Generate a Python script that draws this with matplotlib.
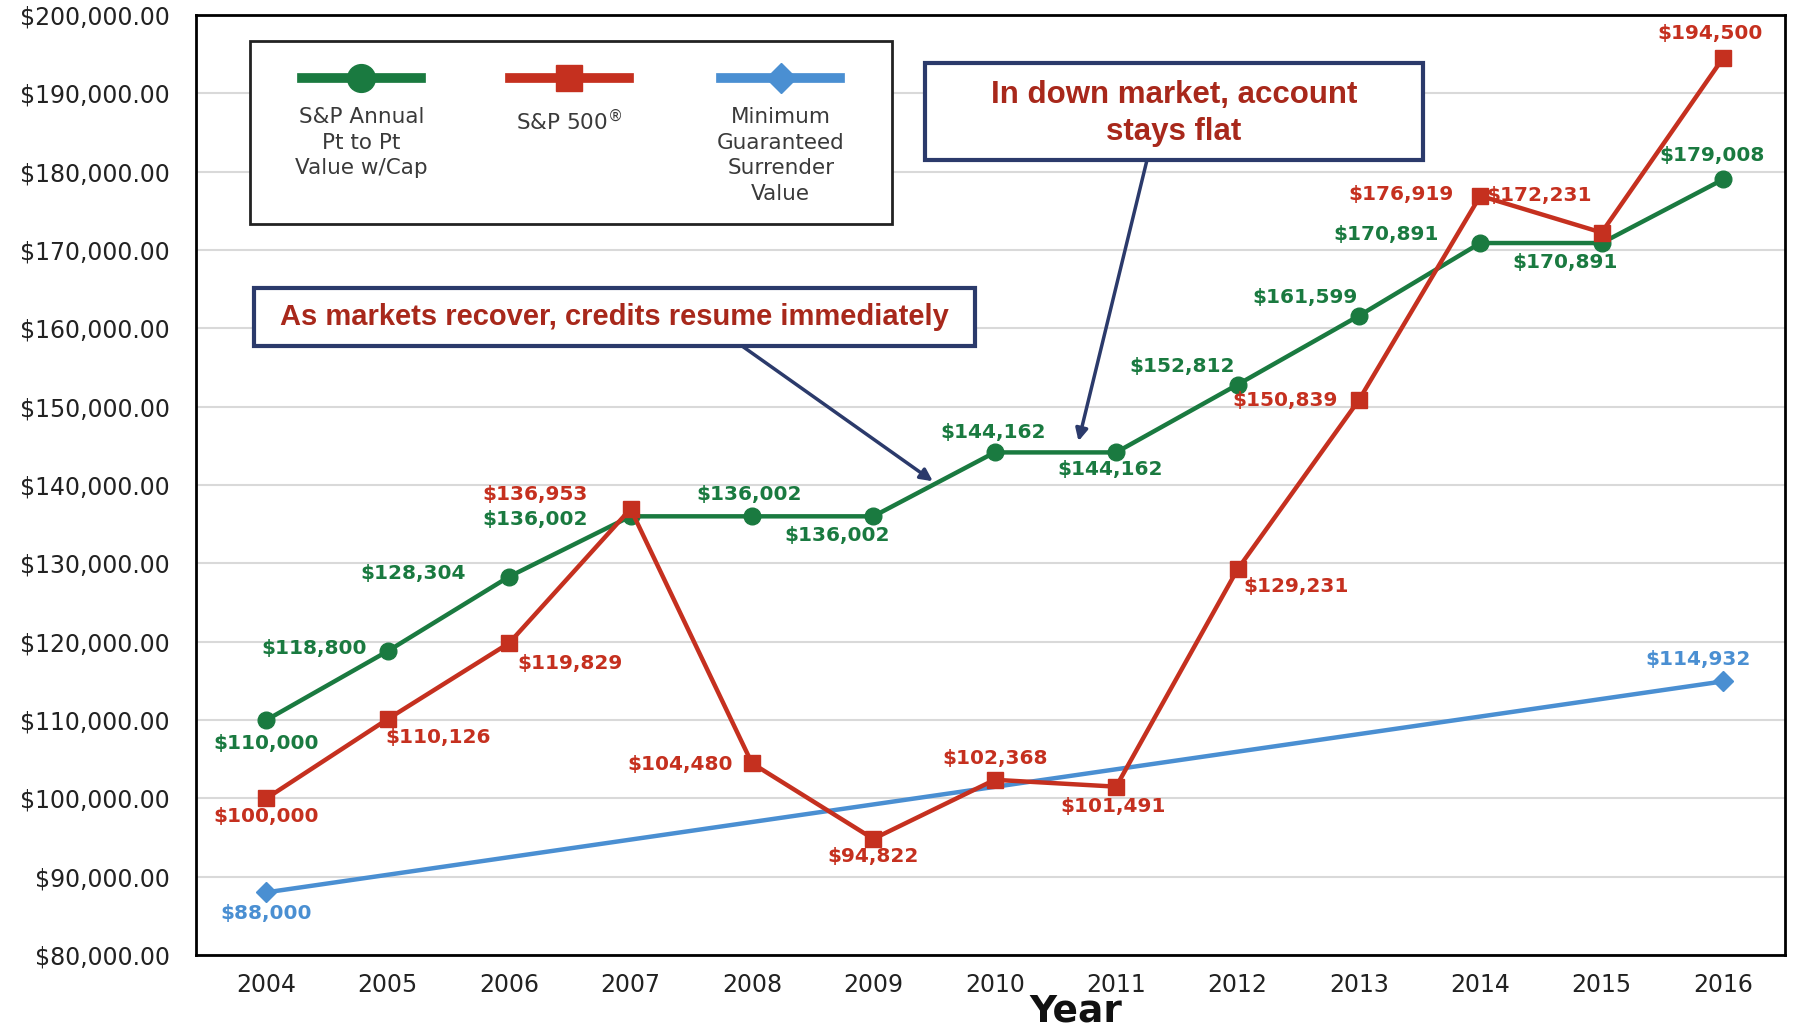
import matplotlib.pyplot as plt
from matplotlib.patches import Rectangle
from matplotlib.lines import Line2D
from matplotlib.ticker import FuncFormatter

# data
years = list(range(2004, 2017))
capped = [110000, 118800, 128304, 136002, 136002, 136002, 144162, 144162,
          152812, 161599, 170891, 170891, 179008]
sp500 = [100000, 110126, 119829, 136953, 104480, 94822, 102368, 101491,
         129231, 150839, 176919, 172231, 194500]
min_years = [2004, 2016]
min_value = [88000, 114932]

# label offsets (points) for each point
capped_off = [(0, -17), (-53, 2), (-69, 2), (-69, -2), (-2, 16), (-26, -14), (-1, 14),
              (-4, -12), (-40, 13), (-39, 13), (-68, 6), (-26, -14), (-8, 17)]
sp_off = [(0, -13), (36, -13), (44, -15), (-69, 10), (-52, -1), (0, -13), (0, 15),
          (-2, -14), (42, -12), (-53, 0), (-57, 1), (-45, 27), (-9, 18)]
min_off = [(0, -15), (-18, 16)]

GREEN = '#1a7a40'
RED = '#c5301f'
BLUE = '#4a8fd2'
NAVY = '#2b3a6b'
NOTE_RED = '#a8281b'

fig = plt.figure(figsize=(17.95, 10.28), dpi=100)
ax = fig.add_axes([0.1092, 0.0710, 0.9944 - 0.1092, 0.9854 - 0.0710])

ax.plot(years, capped, color=GREEN, lw=3.2, marker='o', ms=12, zorder=3)
ax.plot(years, sp500, color=RED, lw=3.2, marker='s', ms=11, zorder=4)
ax.plot(min_years, min_value, color=BLUE, lw=3.2, marker='D', ms=10, zorder=2)

lab_kw = dict(textcoords='offset points', ha='center', va='center',
              fontsize=14.5, fontweight='bold', zorder=5)
for x, v, o in zip(years, capped, capped_off):
    ax.annotate(f"${v:,}", (x, v), xytext=o, color=GREEN, **lab_kw)
for x, v, o in zip(years, sp500, sp_off):
    ax.annotate(f"${v:,}", (x, v), xytext=o, color=RED, **lab_kw)
for x, v, o in zip(min_years, min_value, min_off):
    ax.annotate(f"${v:,}", (x, v), xytext=o, color=BLUE, **lab_kw)

ax.set_xlim(2003.42, 2016.51)
ax.set_ylim(80000, 200000)
ax.set_xticks(years)
ax.set_yticks(range(80000, 200001, 10000))
ax.yaxis.set_major_formatter(FuncFormatter(lambda v, p: f"${v:,.2f}"))
ax.tick_params(axis='both', length=0, labelsize=17, colors='#222222')
ax.tick_params(axis='y', pad=19)
ax.tick_params(axis='x', pad=13)
ax.grid(axis='y', color='#d9d9d9', lw=1.5)
ax.set_axisbelow(True)
for s in ax.spines.values():
    s.set_color('black')
    s.set_linewidth(2)

fig.text(0.5995, 0.006, "Year", ha='center', va='baseline', fontsize=27,
         fontweight='bold', color='#111111')

# legend drawn by hand (symbol above text)
ax.add_patch(Rectangle((0.034, 0.778), 0.404, 0.194, transform=ax.transAxes,
                       fill=True, facecolor='white', edgecolor='#222222', lw=2, zorder=6))
leg_items = [(0.104, GREEN, 'o', 20, "S&P Annual\nPt to Pt\nValue w/Cap"),
             (0.235, RED, 's', 19, "S&P 500$^{\\circledR}$"),
             (0.368, BLUE, 'D', 15, "Minimum\nGuaranteed\nSurrender\nValue")]
for cx, c, m, size, label in leg_items:
    ax.add_line(Line2D([cx - 0.0375, cx + 0.0375], [0.933, 0.933], transform=ax.transAxes,
                       color=c, lw=7, zorder=7))
    ax.add_line(Line2D([cx], [0.933], transform=ax.transAxes, color=c, marker=m,
                       ms=size, lw=0, zorder=8))
    ax.text(cx, 0.902, label, transform=ax.transAxes, ha='center', va='top',
            fontsize=15.5, color='#3a3a3a', linespacing=1.35, zorder=8)

# callout boxes
note_font = ['Liberation Sans', 'DejaVu Sans']
fig.add_artist(Rectangle((0.5153, 0.8444), 0.7928 - 0.5153, 0.9387 - 0.8444,
                         transform=fig.transFigure, facecolor='white', edgecolor=NAVY, lw=3, zorder=9))
fig.text((0.5153 + 0.7928) / 2, (0.8444 + 0.9387) / 2 - 0.002, "In down market, account\nstays flat",
         ha='center', va='center', fontsize=22.5, fontweight='bold', color=NOTE_RED,
         family=note_font, linespacing=1.3, zorder=10)
fig.add_artist(Rectangle((0.1415, 0.6634), 0.5432 - 0.1415, 0.7198 - 0.6634,
                         transform=fig.transFigure, facecolor='white', edgecolor=NAVY, lw=3, zorder=9))
fig.text((0.1415 + 0.5432) / 2, (0.6634 + 0.7198) / 2, "As markets recover, credits resume immediately",
         ha='center', va='center', fontsize=21, fontweight='bold', color=NOTE_RED,
         family=note_font, zorder=10)

ax.annotate('', xy=(2010.69, 145600), xycoords='data', xytext=(0.639, 0.8444),
            textcoords='figure fraction',
            arrowprops=dict(arrowstyle='-|>', color=NAVY, lw=2.5, mutation_scale=18,
                            shrinkA=0, shrinkB=0))
ax.annotate('', xy=(2009.49, 140485), xycoords='data', xytext=(0.4134, 0.6634),
            textcoords='figure fraction',
            arrowprops=dict(arrowstyle='-|>', color=NAVY, lw=2.5, mutation_scale=18,
                            shrinkA=0, shrinkB=0))

plt.savefig("out.png", dpi=100)
